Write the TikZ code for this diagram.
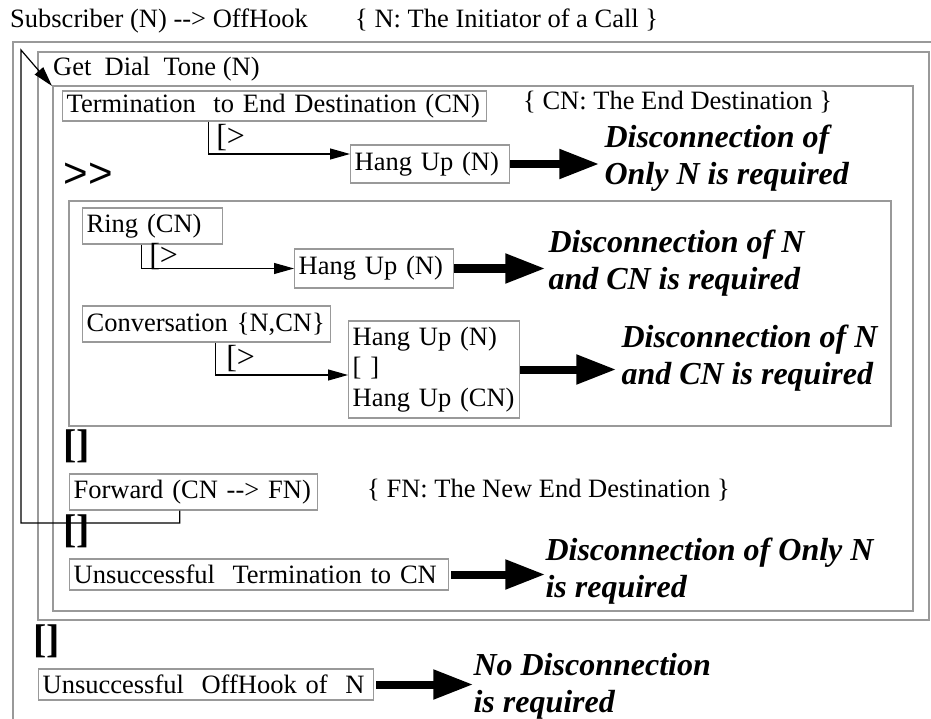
\documentclass[tikz,border=0pt]{standalone}
\usepackage{fontspec}
\setmainfont{Liberation Serif}
\newfontfamily\arialfont{Liberation Sans}
\usepackage{tikz}
\usetikzlibrary{arrows.meta,positioning}

\begin{document}
\begin{tikzpicture}[x=1pt,y=-1pt,node distance=94pt,>={Triangle[length=20pt,width=11pt]}]
\tikzstyle{frame}=[draw=black!40,line width=1.3pt]
\tikzstyle{box}=[draw=black!40,line width=1.3pt,anchor=west,align=left,inner xsep=4pt,inner ysep=0pt,font=\fontsize{26.5}{30.5}\selectfont]
\tikzstyle{txt}=[anchor=base west,inner sep=0pt,font=\fontsize{26.5}{30.5}\selectfont]
\tikzstyle{outcome}=[align=left,inner sep=0pt,font=\fontsize{32}{37}\selectfont\bfseries\itshape]
\tikzstyle{choice}=[anchor=north west,inner sep=0pt,font=\fontsize{40}{40}\selectfont\bfseries]
\tikzstyle{disable}=[right,inner sep=0pt,font=\fontsize{32}{32}\selectfont]
\tikzstyle{wire}=[->,line width=1.2pt]
\tikzstyle{fat}=[-{Triangle[length=40pt,width=28pt]},line width=8pt]
\useasboundingbox (0,0) rectangle (931,719);
\draw[frame] (13,719) -- (13,42) -- (931,42);
\draw[frame] (38,52) rectangle (929,620);
\draw[frame] (53,86) rectangle (913,611);
\draw[frame] (69,201) rectangle (891,426);
\node[txt] (title) at (10,28) {Subscriber (N) -{}-{}> OffHook};
\node[txt] (initiator) at (355,28) {\{ N: The Initiator of a Call \}};
\node[txt] (dialtone) at (53,76) {Get~ Dial~ Tone (N)};
\node[box,text width=416pt,minimum height=30pt] (term) at (62,106) {Termination~ to End Destination (CN)};
\node[txt] (enddest) at (523,110) {\{ CN: The End Destination \}};
\node[box,text width=151pt,minimum height=38pt] (hang1) at (350,164) {Hang~Up~(N)};
\node[inner sep=0pt,font=\fontsize{42}{42}\selectfont\arialfont] (enable) at (88,175) {>>};
\node[box,text width=132pt,minimum height=36pt] (ring) at (82,226) {Ring~(CN)};
\node[box,text width=151pt,minimum height=39pt] (hang2) at (294,268.5) {Hang~Up~(N)};
\node[box,text width=240pt,minimum height=36pt] (conv) at (82,324) {Conversation~\{N,CN\}};
\node[box,text width=163pt,minimum height=97pt] (hang3) at (348,369.5) {Hang~Up~(N)\\{[ ]}\\Hang~Up~(CN)};
\node[choice] (or1) at (63,430) {[]};
\node[box,text width=240pt,minimum height=36pt] (fwd) at (69,492) {Forward (CN -{}-{}> FN)};
\node[txt] (newdest) at (367,497) {\{ FN: The New End Destination \}};
\node[choice] (or2) at (63,515) {[]};
\node[box,text width=371pt,minimum height=31pt] (unterm) at (69,574.5) {Unsuccessful~ Termination to CN};
\node[choice] (or3) at (33,625) {[]};
\node[box,text width=327pt,minimum height=31pt] (unoff) at (38,684.5) {Unsuccessful~ OffHook of~ N};
\node[outcome,right=of hang1,yshift=6pt] (out1) {Disconnection of\\Only N is required};
\node[outcome,right=of hang2,yshift=5pt] (out2) {Disconnection of N\\and CN is required};
\node[outcome,right=101pt of hang3,yshift=11pt] (out3) {Disconnection of N\\and CN is required};
\node[outcome,right=96pt of unterm,yshift=3pt] (out4) {Disconnection of Only N\\is required};
\node[outcome,right=99pt of unoff,yshift=-2pt] (out5) {No Disconnection\\is required};
\coordinate (loopL) at (21,523);
\coordinate (loopT) at (21,50);
\coordinate (entry) at (52,86);
\draw[wire] ([xshift=-66pt]term.south) |- node[disable,pos=0.25,xshift=7pt] {[>} ([yshift=10pt]hang1.west);
\draw[wire] ([xshift=-11pt]ring.south) |- node[disable,pos=0.25,xshift=7pt] {[>} (hang2.west);
\draw[wire] ([xshift=9pt]conv.south) |- node[disable,pos=0.25,xshift=10pt] {[>} ([yshift=-5.5pt]hang3.west);
\draw[wire] ([xshift=-14pt]fwd.south) |- (loopL) -- (loopT) -- (entry);
\draw[fat,shorten >=5pt] (hang1.east) -- (hang1.east -| out1.west);
\draw[fat,shorten >=3pt] (hang2.east) -- (hang2.east -| out2.west);
\draw[fat,shorten >=5pt] (hang3.east) -- (hang3.east -| out3.west);
\draw[fat] ([xshift=2pt]unterm.east) -- (unterm.east -| out4.west);
\draw[fat] ([xshift=2pt]unoff.east) -- (unoff.east -| out5.west);
\end{tikzpicture}
\end{document}
